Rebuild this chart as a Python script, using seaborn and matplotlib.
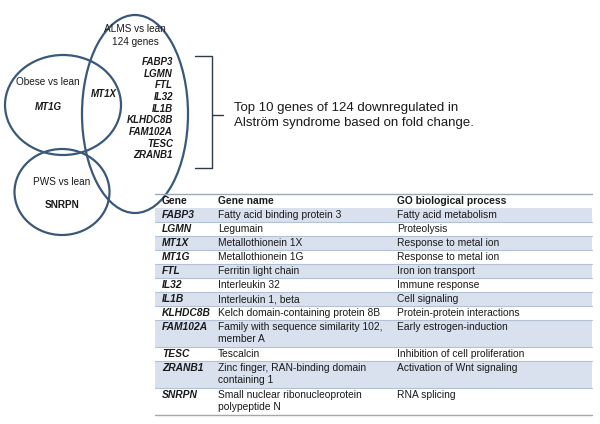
import matplotlib
matplotlib.use("Agg")
import matplotlib.pyplot as plt
from matplotlib.patches import Ellipse, Rectangle
import seaborn as sns

# ---------------- data ----------------
alms_title = ["ALMS vs lean", "124 genes"]
alms_genes = ["FABP3", "LGMN", "FTL", "IL32", "IL1B", "KLHDC8B", "FAM102A", "TESC", "ZRANB1"]
obese_title = "Obese vs lean"
obese_gene = "MT1G"
shared_gene = "MT1X"
pws_title = "PWS vs lean"
pws_gene = "SNRPN"
brace_text = ["Top 10 genes of 124 downregulated in",
              "Alström syndrome based on fold change."]

table_header = ["Gene", "Gene name", "GO biological process"]
table_genes = ["FABP3", "LGMN", "MT1X", "MT1G", "FTL", "IL32", "IL1B",
               "KLHDC8B", "FAM102A", "TESC", "ZRANB1", "SNRPN"]
table_names = ["Fatty acid binding protein 3", "Legumain", "Metallothionein 1X",
               "Metallothionein 1G", "Ferritin light chain", "Interleukin 32",
               "Interleukin 1, beta", "Kelch domain-containing protein 8B",
               "Family with sequence similarity 102,\nmember A", "Tescalcin",
               "Zinc finger, RAN-binding domain\ncontaining 1",
               "Small nuclear ribonucleoprotein\npolypeptide N"]
table_go = ["Fatty acid metabolism", "Proteolysis", "Response to metal ion",
            "Response to metal ion", "Iron ion transport", "Immune response",
            "Cell signaling", "Protein-protein interactions",
            "Early estrogen-induction", "Inhibition of cell proliferation",
            "Activation of Wnt signaling", "RNA splicing"]

# ---------------- style ----------------
sns.set_theme(style="white")
plt.rcParams['font.family'] = ['Liberation Sans', 'DejaVu Sans']

EDGE = "#3a5878"
TXT = "#1a1a1a"
SHADE = "#d9e1ee"
SEP = "#b4c1d3"

fig = plt.figure(figsize=(6, 4.24), dpi=100)
ax = fig.add_axes([0, 0, 1, 1])
ax.set_xlim(0, 600)
ax.set_ylim(424, 0)
ax.axis("off")

# ---------------- venn ----------------
for (cx, cy, w, h) in [(63, 105, 116, 100), (135, 114, 106, 198), (62, 192, 95, 86)]:
    ax.add_patch(Ellipse((cx, cy), w, h, fill=False, ec=EDGE, lw=1.6))

fs_v = 7.2
ax.text(135, 29, alms_title[0], ha="center", va="center", fontsize=fs_v, color=TXT)
ax.text(135, 42, alms_title[1], ha="center", va="center", fontsize=fs_v, color=TXT)
for i, g in enumerate(alms_genes):
    ax.text(173, 62 + i * 11.66, g, ha="right", va="center", fontsize=7,
            fontweight="bold", fontstyle="italic", color=TXT)
ax.text(48, 82, obese_title, ha="center", va="center", fontsize=fs_v, color=TXT)
ax.text(48, 107, obese_gene, ha="center", va="center", fontsize=7,
        fontweight="bold", fontstyle="italic", color=TXT)
ax.text(103.5, 94, shared_gene, ha="center", va="center", fontsize=7,
        fontweight="bold", fontstyle="italic", color=TXT)
ax.text(62, 182, pws_title, ha="center", va="center", fontsize=fs_v, color=TXT)
ax.text(62, 205, pws_gene, ha="center", va="center", fontsize=7.2,
        fontweight="bold", color=TXT)

# brace
ax.plot([195, 212, 212, 195], [56, 56, 168, 168], color="#2e3b4a", lw=1.0,
        solid_joinstyle="round")
ax.plot([212, 223], [115, 115], color="#2e3b4a", lw=1.0)
ax.text(234, 108, brace_text[0], ha="left", va="center", fontsize=9.5, color=TXT)
ax.text(234, 123, brace_text[1], ha="left", va="center", fontsize=9.5, color=TXT)

# ---------------- table ----------------
x0, x1 = 155, 592
col_x = [162, 218, 397]
fs_t = 7.4
top = 194
ax.plot([x0, x1], [top, top], color="#a0a8b2", lw=1.0)
hdr_h = 14
for cx, h in zip(col_x, table_header):
    ax.text(cx, top + hdr_h / 2, h, ha="left", va="center", fontsize=fs_t,
            fontweight="bold", color=TXT)
y = top + hdr_h
for i, (g, n, go) in enumerate(zip(table_genes, table_names, table_go)):
    nl = n.count("\n") + 1
    rh = 14 + 13 * (nl - 1)
    if i % 2 == 0:
        ax.add_patch(Rectangle((x0, y), x1 - x0, rh, fc=SHADE, ec="none"))
    if i > 0:
        ax.plot([x0, x1], [y, y], color=SEP, lw=0.8)
    ty = y + 7
    ax.text(col_x[0], ty, g, ha="left", va="center", fontsize=fs_t,
            fontweight="bold", fontstyle="italic", color=TXT)
    for k, line in enumerate(n.split("\n")):
        ax.text(col_x[1], ty + 12 * k, line, ha="left", va="center",
                fontsize=fs_t, color=TXT)
    ax.text(col_x[2], ty, go, ha="left", va="center", fontsize=fs_t, color=TXT)
    y += rh
ax.plot([x0, x1], [y, y], color="#a0a8b2", lw=1.0)

fig.savefig("out.png", dpi=100)
